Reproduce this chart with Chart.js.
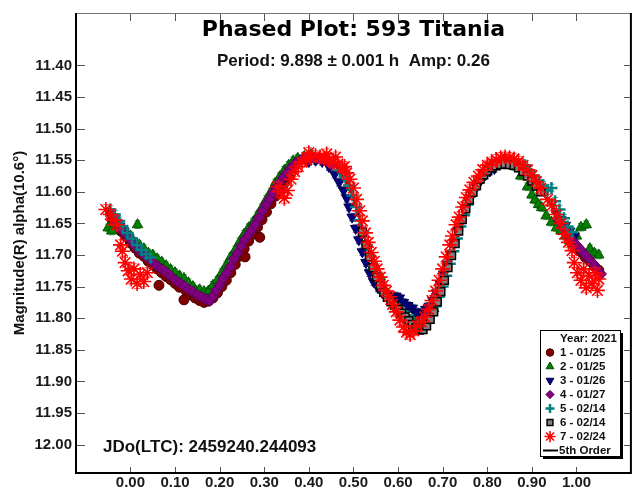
<!DOCTYPE html>
<html>
<head>
<meta charset="utf-8">
<script src="https://cdn.jsdelivr.net/npm/chart.js@4"></script>
<style>
  html, body { margin: 0; padding: 0; background: #fff; }
  canvas { display: block; }
</style>
</head>
<body>
<canvas id="chart" width="640" height="495"></canvas>
<script>
// phase / magnitude pairs, one array per night
const night1 = [
  [-0.040, 11.645], [-0.030, 11.653], [-0.020, 11.663], [-0.010, 11.671], [0.000, 11.681], [0.010, 11.689],
  [0.020, 11.697], [0.030, 11.702], [0.040, 11.710], [0.050, 11.716], [0.060, 11.722], [0.064, 11.748],
  [0.070, 11.728], [0.080, 11.734], [0.090, 11.739], [0.100, 11.745], [0.110, 11.751], [0.120, 11.771],
  [0.125, 11.757], [0.135, 11.763], [0.145, 11.768], [0.155, 11.772], [0.165, 11.775], [0.175, 11.773],
  [0.185, 11.768], [0.195, 11.760], [0.205, 11.750], [0.215, 11.740], [0.225, 11.728], [0.235, 11.715],
  [0.245, 11.702], [0.257, 11.703], [0.255, 11.690], [0.265, 11.678], [0.275, 11.667], [0.285, 11.656],
  [0.290, 11.672], [0.295, 11.644], [0.305, 11.632], [0.315, 11.619], [0.325, 11.607], [0.335, 11.596],
  [0.345, 11.586], [0.355, 11.577],
  [0.960, 11.648], [0.970, 11.660], [0.980, 11.670], [0.990, 11.680], [1.000, 11.688], [1.010, 11.695],
  [1.020, 11.704], [1.030, 11.710], [1.040, 11.718], [1.050, 11.724],
];
const night2 = [
  [-0.050, 11.657], [-0.042, 11.662], [-0.034, 11.650], [-0.022, 11.656], [-0.010, 11.663], [0.000, 11.670],
  [0.016, 11.652], [0.020, 11.684], [0.030, 11.690], [0.040, 11.697], [0.050, 11.700], [0.060, 11.706],
  [0.070, 11.711], [0.080, 11.717], [0.090, 11.723], [0.100, 11.728], [0.110, 11.733], [0.120, 11.737],
  [0.130, 11.744], [0.140, 11.750], [0.146, 11.756], [0.155, 11.755], [0.165, 11.758], [0.175, 11.757],
  [0.185, 11.748], [0.195, 11.740], [0.205, 11.728], [0.215, 11.716], [0.225, 11.703], [0.235, 11.692],
  [0.245, 11.679], [0.255, 11.667], [0.265, 11.657], [0.275, 11.648], [0.285, 11.637], [0.295, 11.625],
  [0.305, 11.612], [0.315, 11.600], [0.325, 11.586], [0.335, 11.576], [0.345, 11.566], [0.355, 11.558],
  [0.365, 11.551], [0.375, 11.547], [0.390, 11.544], [0.405, 11.541],
  [0.560, 11.734], [0.600, 11.778], [0.625, 11.785], [0.640, 11.800], [0.660, 11.805], [0.680, 11.785],
  [0.860, 11.560], [0.875, 11.575], [0.890, 11.592], [0.900, 11.605], [0.907, 11.613], [0.915, 11.620],
  [0.922, 11.625], [0.932, 11.638], [0.944, 11.648], [0.955, 11.657], [0.965, 11.662], [0.975, 11.670],
  [0.985, 11.678], [1.000, 11.670], [1.010, 11.656], [1.022, 11.652], [1.030, 11.690], [1.040, 11.697],
  [1.050, 11.700],
];
const night3 = [
  [-0.048, 11.632], [-0.040, 11.640], [-0.032, 11.648], [-0.024, 11.655], [-0.015, 11.662], [-0.005, 11.670],
  [0.005, 11.678],
  [0.400, 11.552], [0.415, 11.550], [0.430, 11.552], [0.445, 11.560], [0.458, 11.572], [0.468, 11.585],
  [0.478, 11.598], [0.485, 11.610], [0.490, 11.624], [0.497, 11.640], [0.505, 11.658], [0.512, 11.676],
  [0.520, 11.695], [0.528, 11.712], [0.536, 11.728], [0.545, 11.742], [0.555, 11.752], [0.565, 11.760],
  [0.575, 11.764], [0.585, 11.768], [0.595, 11.765], [0.603, 11.768], [0.612, 11.775], [0.622, 11.780],
  [0.632, 11.784], [0.640, 11.790], [0.647, 11.792], [0.655, 11.793], [0.662, 11.786], [0.670, 11.781],
  [0.678, 11.772], [0.686, 11.760], [0.694, 11.745], [0.702, 11.730], [0.710, 11.715], [0.718, 11.698],
  [0.726, 11.680], [0.734, 11.662], [0.742, 11.645], [0.750, 11.628], [0.758, 11.614], [0.767, 11.603],
  [0.776, 11.592], [0.786, 11.581], [0.796, 11.573], [0.806, 11.567], [0.816, 11.563],
  [0.955, 11.634], [0.965, 11.644], [0.975, 11.653], [0.985, 11.662], [0.995, 11.670],
];
const night4 = [
  [-0.030, 11.650], [-0.020, 11.659], [-0.010, 11.668], [0.000, 11.676], [0.010, 11.685], [0.020, 11.693],
  [0.030, 11.699], [0.040, 11.705], [0.050, 11.711], [0.060, 11.717], [0.070, 11.722], [0.080, 11.727],
  [0.090, 11.733], [0.100, 11.739], [0.110, 11.744], [0.120, 11.749], [0.130, 11.754], [0.140, 11.758],
  [0.150, 11.763], [0.160, 11.767], [0.170, 11.770], [0.178, 11.772], [0.185, 11.765], [0.192, 11.756],
  [0.200, 11.747], [0.208, 11.737], [0.216, 11.728], [0.224, 11.718], [0.232, 11.706], [0.240, 11.697],
  [0.248, 11.686], [0.256, 11.676], [0.264, 11.668], [0.272, 11.660], [0.280, 11.651], [0.288, 11.641],
  [0.296, 11.630], [0.304, 11.620], [0.312, 11.611], [0.320, 11.601], [0.328, 11.592], [0.336, 11.584],
  [0.344, 11.576], [0.352, 11.569], [0.360, 11.562], [0.368, 11.556], [0.376, 11.552], [0.384, 11.549],
  [0.392, 11.547], [0.400, 11.546], [0.410, 11.546], [0.420, 11.547], [0.430, 11.549], [0.440, 11.552],
  [0.450, 11.557],
  [0.960, 11.645], [0.970, 11.656], [0.980, 11.667], [0.990, 11.676], [1.000, 11.684], [1.010, 11.692],
  [1.020, 11.700], [1.030, 11.708], [1.040, 11.716], [1.048, 11.724], [1.055, 11.730],
];
const night5 = [
  [-0.045, 11.628], [-0.035, 11.636], [-0.025, 11.646], [-0.018, 11.654], [-0.007, 11.665], [0.004, 11.674],
  [0.015, 11.684], [0.025, 11.692], [0.035, 11.699], [0.045, 11.704],
  [0.470, 11.566], [0.480, 11.576], [0.490, 11.590], [0.498, 11.606], [0.506, 11.624], [0.514, 11.645],
  [0.522, 11.664], [0.530, 11.684], [0.538, 11.702], [0.546, 11.720], [0.554, 11.736], [0.562, 11.750],
  [0.570, 11.760], [0.580, 11.769], [0.590, 11.776], [0.600, 11.783], [0.610, 11.790], [0.620, 11.797],
  [0.630, 11.803], [0.640, 11.808], [0.650, 11.811], [0.660, 11.810], [0.668, 11.803], [0.676, 11.794],
  [0.684, 11.781], [0.692, 11.766], [0.700, 11.750], [0.708, 11.733], [0.716, 11.714], [0.724, 11.694],
  [0.732, 11.674], [0.740, 11.655], [0.748, 11.637], [0.756, 11.620], [0.764, 11.606], [0.772, 11.594],
  [0.780, 11.584], [0.790, 11.574], [0.800, 11.566], [0.810, 11.561], [0.820, 11.557], [0.830, 11.554],
  [0.840, 11.552], [0.850, 11.552], [0.860, 11.553], [0.870, 11.556], [0.880, 11.560], [0.885, 11.558],
  [0.895, 11.566], [0.905, 11.575], [0.915, 11.582], [0.925, 11.590], [0.935, 11.598], [0.944, 11.594],
  [0.952, 11.615], [0.962, 11.628], [0.972, 11.642], [0.980, 11.655], [0.990, 11.664],
];
const night6 = [
  [0.520, 11.664], [0.528, 11.684], [0.536, 11.703], [0.544, 11.720], [0.552, 11.735], [0.560, 11.748],
  [0.568, 11.759], [0.576, 11.767], [0.584, 11.774], [0.592, 11.780], [0.600, 11.786], [0.608, 11.792],
  [0.616, 11.798], [0.624, 11.804], [0.632, 11.810], [0.640, 11.815], [0.648, 11.819], [0.656, 11.818],
  [0.664, 11.812], [0.672, 11.802], [0.680, 11.790], [0.688, 11.774], [0.696, 11.758], [0.704, 11.740],
  [0.712, 11.720], [0.720, 11.701], [0.728, 11.682], [0.736, 11.662], [0.744, 11.644], [0.752, 11.627],
  [0.760, 11.613], [0.768, 11.601], [0.776, 11.590], [0.784, 11.580], [0.792, 11.573], [0.800, 11.567],
  [0.810, 11.562], [0.820, 11.559], [0.830, 11.557], [0.840, 11.556], [0.850, 11.557], [0.860, 11.558],
  [0.870, 11.562], [0.880, 11.568], [0.890, 11.575], [0.900, 11.583], [0.910, 11.591], [0.920, 11.600],
];
const night7 = [
  [-0.055, 11.628], [-0.045, 11.636], [-0.038, 11.645], [-0.030, 11.652], [-0.022, 11.684], [-0.018, 11.694],
  [-0.012, 11.712], [-0.005, 11.725], [0.002, 11.738], [0.008, 11.722], [0.015, 11.745], [0.022, 11.731],
  [0.030, 11.742], [0.038, 11.728],
  [0.330, 11.592], [0.337, 11.600], [0.345, 11.610], [0.352, 11.598], [0.360, 11.580], [0.368, 11.568],
  [0.376, 11.560], [0.385, 11.553], [0.395, 11.549], [0.400, 11.538], [0.405, 11.546], [0.415, 11.543],
  [0.425, 11.545], [0.435, 11.547], [0.440, 11.540], [0.445, 11.550], [0.455, 11.553], [0.460, 11.545],
  [0.465, 11.556], [0.475, 11.562], [0.480, 11.560], [0.485, 11.570], [0.492, 11.580], [0.500, 11.594],
  [0.507, 11.612], [0.514, 11.630], [0.520, 11.646], [0.527, 11.665], [0.533, 11.680], [0.540, 11.696],
  [0.547, 11.710], [0.553, 11.722], [0.560, 11.735], [0.567, 11.748], [0.574, 11.757], [0.581, 11.766],
  [0.588, 11.778], [0.596, 11.790], [0.604, 11.803], [0.612, 11.814], [0.619, 11.822], [0.627, 11.826],
  [0.635, 11.820], [0.643, 11.812], [0.652, 11.806], [0.660, 11.798], [0.668, 11.786], [0.676, 11.772],
  [0.684, 11.757], [0.692, 11.740], [0.700, 11.722], [0.708, 11.703], [0.716, 11.684], [0.722, 11.670],
  [0.730, 11.652], [0.737, 11.640], [0.745, 11.624], [0.753, 11.609], [0.761, 11.597], [0.770, 11.585],
  [0.780, 11.575], [0.790, 11.565], [0.800, 11.558], [0.810, 11.553], [0.820, 11.549], [0.830, 11.546],
  [0.840, 11.545], [0.850, 11.546], [0.860, 11.548], [0.870, 11.552], [0.880, 11.558], [0.890, 11.565],
  [0.900, 11.574], [0.910, 11.584], [0.920, 11.594], [0.935, 11.612], [0.945, 11.622], [0.955, 11.636],
  [0.965, 11.650], [0.973, 11.667], [0.982, 11.680], [0.990, 11.693],
  [0.995, 11.712], [1.002, 11.728], [1.010, 11.740], [1.016, 11.722], [1.022, 11.752], [1.028, 11.733],
  [1.035, 11.745], [1.042, 11.728], [1.047, 11.756], [1.050, 11.738],
];
const nights = [night1, night2, night3, night4, night5, night6, night7];
const nightLabels = ["1 - 01/25", "2 - 01/25", "3 - 01/26", "4 - 01/27", "5 - 02/14", "6 - 02/14", "7 - 02/24"];
const nightErr = [0.006, 0.006, 0.006, 0.006, 0.006, 0.006, 0.008];

// 5th order fit, read along the band
const fitPhase = [-0.05, -0.03, -0.01, 0.01, 0.03, 0.05, 0.07, 0.09, 0.11, 0.13, 0.15, 0.17, 0.19, 0.21, 0.23,
  0.25, 0.27, 0.29, 0.31, 0.33, 0.35, 0.37, 0.39, 0.41, 0.43, 0.45, 0.47, 0.49, 0.51, 0.53, 0.55, 0.57, 0.59,
  0.61, 0.63, 0.65, 0.67, 0.69, 0.71, 0.73, 0.75, 0.77, 0.79, 0.81, 0.83, 0.85, 0.87, 0.89, 0.91, 0.93, 0.95,
  0.97, 0.99, 1.01, 1.03, 1.05];
const fitMag = [11.630, 11.648, 11.666, 11.683, 11.697, 11.709, 11.720, 11.731, 11.741, 11.751, 11.760, 11.765,
  11.755, 11.734, 11.709, 11.682, 11.660, 11.638, 11.612, 11.589, 11.568, 11.554, 11.548, 11.545, 11.546, 11.553,
  11.568, 11.592, 11.634, 11.685, 11.728, 11.758, 11.776, 11.789, 11.802, 11.812, 11.802, 11.773, 11.729, 11.680,
  11.632, 11.597, 11.575, 11.563, 11.557, 11.555, 11.560, 11.572, 11.589, 11.608, 11.630, 11.654, 11.675, 11.690,
  11.708, 11.725];

const xTicks = [0.0, 0.1, 0.2, 0.3, 0.4, 0.5, 0.6, 0.7, 0.8, 0.9, 1.0];
const yTicks = [11.40, 11.45, 11.50, 11.55, 11.60, 11.65, 11.70, 11.75, 11.80, 11.85, 11.90, 11.95, 12.00];

const nightStyles = [
  { pointStyle: "circle", fill: "#800000", stroke: "#4a0000", radius: 5, width: 1, rotation: 0, err: "rgba(128,0,0,0.7)" },
  { pointStyle: "triangle", fill: "#008000", stroke: "#004d00", radius: 6, width: 1, rotation: 0, err: "rgba(0,128,0,0.7)" },
  { pointStyle: "triangle", fill: "#000080", stroke: "#00004d", radius: 6, width: 1, rotation: 180, err: "rgba(0,0,128,0.7)" },
  { pointStyle: "rectRot", fill: "#800080", stroke: "#5a005a", radius: 5.5, width: 1, rotation: 0, err: "rgba(128,0,128,0.7)" },
  { pointStyle: "cross", fill: "#008080", stroke: "#008080", radius: 6, width: 2.5, rotation: 0, err: "rgba(0,128,128,0.7)" },
  { pointStyle: "rect", fill: "#808080", stroke: "#000000", radius: 5.5, width: 1.5, rotation: 0, err: "rgba(100,100,100,0.8)" },
  { pointStyle: "star", fill: "#ff0000", stroke: "#ff0000", radius: 7.5, width: 1.6, rotation: 0, err: "rgba(255,40,40,0.8)" },
];

const FONT = "'Liberation Sans', Arial, sans-serif";

const datasets = nights.map((rows, i) => {
  const s = nightStyles[i];
  return {
    label: nightLabels[i],
    data: rows.map(([x, y]) => ({ x, y })),
    pointStyle: s.pointStyle,
    pointRadius: s.radius,
    pointRotation: s.rotation,
    pointBackgroundColor: s.fill,
    pointBorderColor: s.stroke,
    pointBorderWidth: s.width,
    showLine: false,
    order: 7 - i,
    err: nightErr[i],
    errColor: s.err,
  };
});
datasets.push({
  label: "5th Order",
  data: fitPhase.map((x, i) => ({ x, y: fitMag[i] })),
  showLine: true,
  borderColor: "#000",
  borderWidth: 2,
  tension: 0.4,
  pointRadius: 0,
  order: 10,
});

const decorations = {
  id: "decorations",
  beforeDatasetDraw(chart, args) {
    const ds = chart.data.datasets[args.index];
    if (!ds.err) return;
    const { ctx } = chart;
    const xs = chart.scales.x, ys = chart.scales.y;
    ctx.save();
    ctx.strokeStyle = ds.errColor;
    ctx.lineWidth = 1;
    ctx.beginPath();
    ds.data.forEach((p) => {
      const px = xs.getPixelForValue(p.x);
      const y1 = ys.getPixelForValue(p.y - ds.err);
      const y2 = ys.getPixelForValue(p.y + ds.err);
      ctx.moveTo(px, y1); ctx.lineTo(px, y2);
      ctx.moveTo(px - 3, y1); ctx.lineTo(px + 3, y1);
      ctx.moveTo(px - 3, y2); ctx.lineTo(px + 3, y2);
    });
    ctx.stroke();
    ctx.restore();
  },
  afterDraw(chart) {
    const { ctx, chartArea: a } = chart;
    const xs = chart.scales.x, ys = chart.scales.y;
    ctx.save();

    // inward ticks
    ctx.strokeStyle = "#555";
    ctx.lineWidth = 1;
    ctx.beginPath();
    yTicks.forEach((v) => {
      const py = Math.round(ys.getPixelForValue(v)) + 0.5;
      ctx.moveTo(a.left, py); ctx.lineTo(a.left + 9, py);
      ctx.moveTo(a.right - 7, py); ctx.lineTo(a.right, py);
    });
    xTicks.forEach((v) => {
      const px = Math.round(xs.getPixelForValue(v)) + 0.5;
      ctx.moveTo(px, a.bottom); ctx.lineTo(px, a.bottom - 6);
      ctx.moveTo(px, a.top); ctx.lineTo(px, a.top + 8);
    });
    ctx.stroke();

    // frame
    ctx.strokeStyle = "#777";
    ctx.lineWidth = 1;
    ctx.beginPath();
    ctx.moveTo(a.left, a.top + 0.5); ctx.lineTo(a.right, a.top + 0.5);
    ctx.stroke();
    ctx.strokeStyle = "#000";
    ctx.lineWidth = 2;
    ctx.beginPath();
    ctx.moveTo(a.left, a.top); ctx.lineTo(a.left, a.bottom); ctx.lineTo(a.right, a.bottom); ctx.lineTo(a.right, a.top);
    ctx.stroke();

    // titles
    const cx = (a.left + a.right) / 2;
    ctx.fillStyle = "#000";
    ctx.textAlign = "center";
    ctx.textBaseline = "middle";
    ctx.font = "bold 22px 'DejaVu Sans', sans-serif";
    ctx.fillText("Phased Plot: 593 Titania", cx, 30);
    ctx.fillStyle = "#111";
    ctx.font = `bold 17px ${FONT}`;
    ctx.fillText("Period: 9.898 \u00b1 0.001 h  Amp: 0.26", cx, 61);
    ctx.textAlign = "left";
    ctx.fillText("JDo(LTC): 2459240.244093", 103, 447);

    // legend box
    const bx = 540, by = 330, bw = 80, bh = 126;
    ctx.fillStyle = "#000";
    ctx.fillRect(bx + 3, by + 3, bw, bh);
    ctx.fillStyle = "#fff";
    ctx.fillRect(bx, by, bw, bh);
    ctx.strokeStyle = "#000";
    ctx.lineWidth = 1;
    ctx.strokeRect(bx + 0.5, by + 0.5, bw, bh);

    ctx.font = `bold 11.5px ${FONT}`;
    ctx.fillStyle = "#111";
    ctx.fillText("Year: 2021", 560, 339);
    nightLabels.forEach((label, i) => {
      const s = nightStyles[i];
      const y = 352.5 + i * 14;
      ctx.fillStyle = s.fill;
      ctx.strokeStyle = s.stroke;
      ctx.lineWidth = s.width;
      Chart.helpers.drawPoint(ctx, { pointStyle: s.pointStyle, radius: s.radius * 0.75, rotation: s.rotation, borderWidth: s.width }, 550, y);
      ctx.fillStyle = "#111";
      ctx.fillText(label, 560, y);
    });
    const ly = 352.5 + 7 * 14;
    ctx.strokeStyle = "#000";
    ctx.lineWidth = 2;
    ctx.beginPath();
    ctx.moveTo(543, ly); ctx.lineTo(558, ly);
    ctx.stroke();
    ctx.fillStyle = "#111";
    ctx.fillText("5th Order", 559, ly);

    ctx.restore();
  },
};

const tickFont = { family: FONT, size: 15, weight: "bold" };

new Chart(document.getElementById("chart"), {
  type: "scatter",
  data: { datasets },
  options: {
    responsive: false,
    animation: false,
    devicePixelRatio: 1,
    layout: { padding: { top: 5, right: 3, left: 0, bottom: 0 } },
    plugins: { legend: { display: false }, tooltip: { enabled: false } },
    scales: {
      x: {
        type: "linear",
        min: -0.122,
        max: 1.122,
        afterBuildTicks: (s) => { s.ticks = xTicks.map((v) => ({ value: v })); },
        afterFit: (s) => { s.height = 22; },
        grid: { display: false, drawTicks: false },
        border: { display: false },
        ticks: { padding: 1, color: "#1a1a1a", font: tickFont, maxRotation: 0, autoSkip: false, callback: (v) => Number(v).toFixed(2) },
      },
      y: {
        type: "linear",
        reverse: true,
        min: 11.317,
        max: 12.045,
        afterBuildTicks: (s) => { s.ticks = yTicks.map((v) => ({ value: v })); },
        afterFit: (s) => { s.width = 76; },
        grid: { display: false, drawTicks: false },
        border: { display: false },
        ticks: { padding: 4, color: "#1a1a1a", font: tickFont, autoSkip: false, callback: (v) => Number(v).toFixed(2) },
        title: {
          display: true,
          text: "Magnitude(R) alpha(10.6\u00b0)",
          color: "#111",
          font: { family: FONT, size: 15, weight: "bold" },
          padding: { top: 11, bottom: 0 },
        },
      },
    },
  },
  plugins: [decorations],
});
</script>
</body>
</html>
